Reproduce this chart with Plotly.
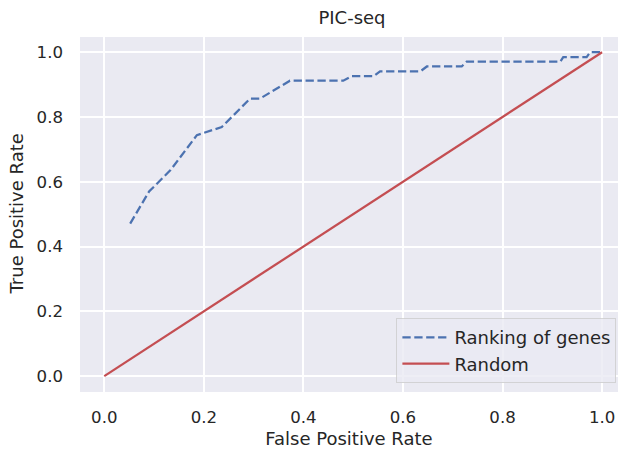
import plotly.graph_objects as go

# Data
fpr_genes = [0.052, 0.09, 0.133, 0.186, 0.236, 0.293, 0.313, 0.373, 0.48, 0.497,
             0.541, 0.554, 0.635, 0.648, 0.718, 0.728, 0.916, 0.922, 0.969, 0.976, 1.0]
tpr_genes = [0.471, 0.57, 0.636, 0.744, 0.769, 0.857, 0.857, 0.912, 0.912, 0.926,
             0.926, 0.941, 0.941, 0.956, 0.956, 0.971, 0.971, 0.985, 0.985, 1.0, 1.0]
fpr_random = [0.0, 1.0]
tpr_random = [0.0, 1.0]
tick_vals = [0.0, 0.2, 0.4, 0.6, 0.8, 1.0]
tick_text = ["0.0", "0.2", "0.4", "0.6", "0.8", "1.0"]

TXT = "#262626"
FONT = "DejaVu Sans"

fig = go.Figure()
fig.add_trace(go.Scatter(x=fpr_genes, y=tpr_genes, mode="lines", name="Ranking of genes",
                         line=dict(color="#4C72B0", width=2.25, dash="8.3px,3.6px")))
fig.add_trace(go.Scatter(x=fpr_random, y=tpr_random, mode="lines", name="Random",
                         line=dict(color="#C44E52", width=2.25)))

fig.update_layout(
    width=618, height=449,
    margin=dict(l=80, r=0, t=37, b=57, autoexpand=False),
    paper_bgcolor="white", plot_bgcolor="#EAEAF2",
    font=dict(family=FONT, color=TXT, size=16.6),
    title=dict(text="PIC-seq", x=352 / 618, xref="container", xanchor="center",
               y=1 - 18 / 449, yref="container", yanchor="middle",
               font=dict(size=18, family=FONT, color=TXT)),
    showlegend=True,
    legend=dict(x=0.997, y=0.025, xanchor="right", yanchor="bottom",
                bgcolor="rgba(234,234,242,0.8)", bordercolor="rgba(204,204,204,0.8)",
                borderwidth=1, font=dict(size=18, family=FONT, color=TXT),
                itemwidth=47),
    annotations=[dict(text="True Positive Rate", textangle=-90, showarrow=False,
                      xref="paper", yref="paper", x=(16 - 80) / 538, y=0.5,
                      xanchor="center", yanchor="middle",
                      font=dict(size=18, family=FONT, color=TXT))],
)
fig.update_xaxes(range=[-0.0488, 1.032], tickvals=tick_vals, ticktext=tick_text,
                 automargin=False, ticklabeloverflow="allow",
                 showgrid=True, gridcolor="white", gridwidth=1.5, zeroline=False,
                 showline=False, ticks="", ticklabelstandoff=13,
                 title=dict(text="False Positive Rate", font=dict(size=18, family=FONT, color=TXT),
                            standoff=11))
fig.update_yaxes(range=[-0.049, 1.047], tickvals=tick_vals, ticktext=tick_text,
                 automargin=False,
                 showgrid=True, gridcolor="white", gridwidth=1.5, zeroline=False,
                 showline=False, ticks="", ticklabelstandoff=16)

fig.write_html(
    "out.html",
    config={"displayModeBar": False},
    post_script="document.body.style.margin='0';document.body.style.overflow='hidden';"
                "document.documentElement.style.overflow='hidden';",
)
